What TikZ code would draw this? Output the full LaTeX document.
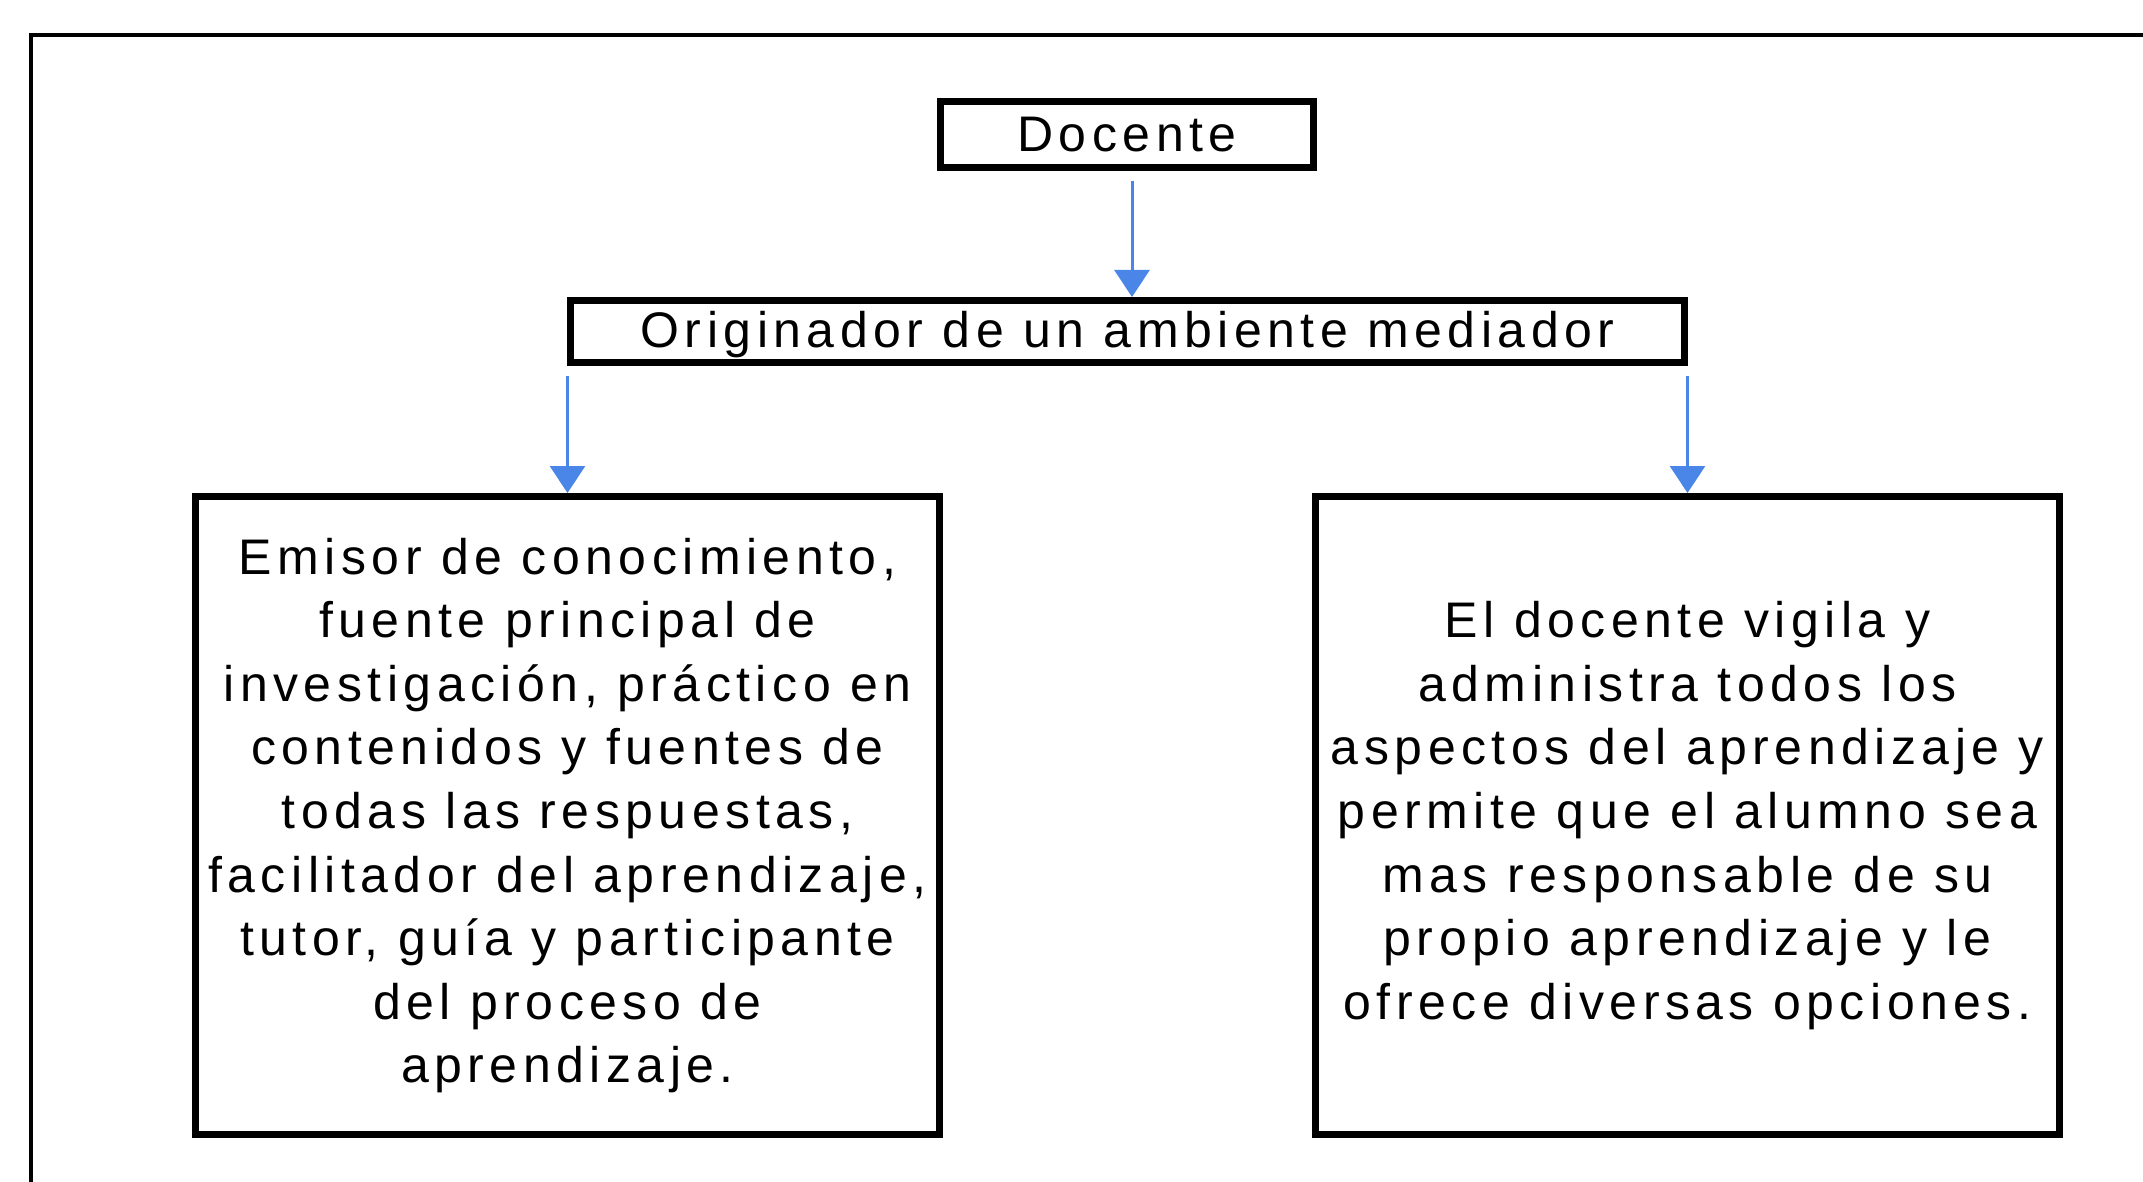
\documentclass[tikz,border=0pt]{standalone}
\usepackage{fontspec}
\setmainfont{Liberation Sans}[LetterSpace=11]
\usepackage{xcolor}
\usetikzlibrary{arrows.meta, positioning}

\definecolor{arrowblue}{RGB}{74,134,232}

\begin{document}
\begin{tikzpicture}[
  x=0.5pt, y=-0.5pt,
  font=\fontsize{25}{31.8}\selectfont,
  box/.style={draw, line width=3.5pt, align=center, inner sep=0pt},
  arrow/.style={-{Triangle[width=17.5pt,length=13.5pt]}, arrowblue, line width=1.5pt, shorten <=5pt}
]
\useasboundingbox (0,0) rectangle (2143,1182);

% outer frame (cut off on the right and at the bottom)
\draw[line width=2pt] (31,1182) -- (31,35) -- (2143,35);

% Main boxes
\node[box, minimum width=186.5pt, minimum height=33pt] (doc) at (1127,134.5) {Docente};
\node[box, minimum width=557pt, minimum height=31pt, text depth=2pt] (orig) at (1127.5,331.5) {Originador de un ambiente mediador};

% Lower boxes
\node[box, minimum width=372pt, minimum height=319pt] (left) at (567.5,815.5)
  {Emisor de conocimiento,\\fuente principal de\\investigación, práctico en\\contenidos y fuentes de\\todas las respuestas,\\facilitador del aprendizaje,\\tutor, guía y participante\\del proceso de\\aprendizaje.};
\node[box, minimum width=372pt, minimum height=319pt] (right) at (1687.5,815.5)
  {El docente vigila y\\administra todos los\\aspectos del aprendizaje y\\permite que el alumno sea\\mas responsable de su\\propio aprendizaje y le\\ofrece diversas opciones.};

% Arrows
\draw[arrow] ([xshift=2.5pt]doc.south) -- ([xshift=2.5pt]doc.south |- orig.north);
\draw[arrow] (left.north |- orig.south) -- (left.north);
\draw[arrow] (right.north |- orig.south) -- (right.north);

\end{tikzpicture}
\end{document}
